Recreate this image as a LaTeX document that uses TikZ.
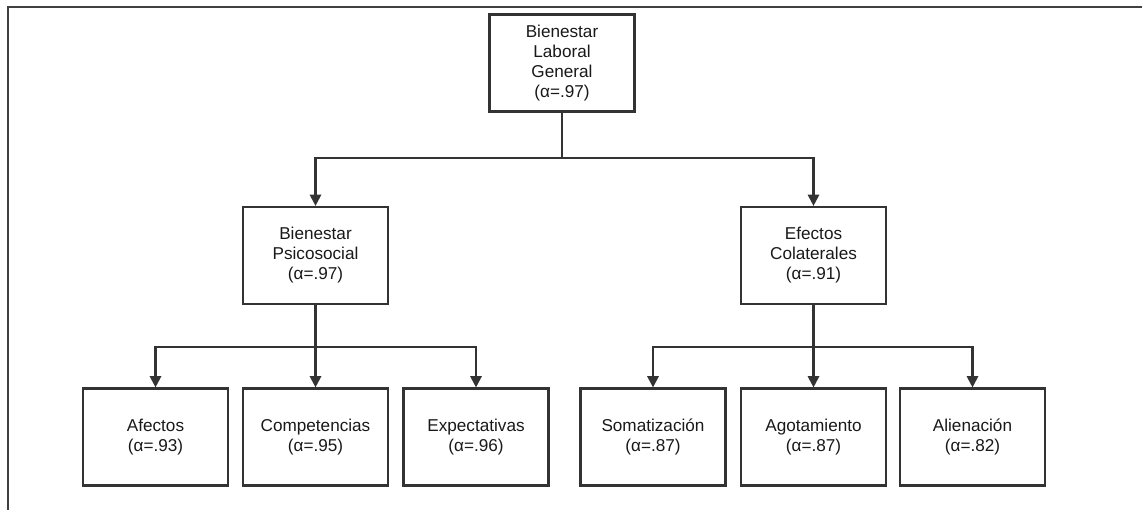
\documentclass[tikz,border=0pt]{standalone}
\usepackage{fontspec}
\setmainfont{Liberation Sans}
\usepackage{xcolor}
\usetikzlibrary{arrows.meta}

\begin{document}
\begin{tikzpicture}[
  x=0.025cm, y=-0.025cm,
  box/.style={rectangle, draw=black!80, fill=white, line width=1.5pt, minimum width=3.625cm, minimum height=2.425cm, align=center, text=black!90, font=\fontsize{12.2}{14.2}\selectfont},
  line/.style={draw=black!80, line width=1.5pt},
  arrow/.style={line, -{Triangle[length=8pt, width=8pt]}},
  frame/.style={draw=black!75, line width=1.5pt}
]
\useasboundingbox (0,0) rectangle (1142,510);

% Frame
\draw [frame] (8,510) -- (8,7) -- (1142,7);

% Top level
\node (general) [box] at (562,63) {Bienestar\\Laboral\\General\\(α=.97)};

% Second level
\node (psico) [box] at (315.5,255.5) {Bienestar\\Psicosocial\\(α=.97)};
\node (colat) [box] at (813.5,255.5) {Efectos\\Colaterales\\(α=.91)};

% Third level
\node (afectos) [box] at (155.5,437) {Afectos\\(α=.93)};
\node (compet) [box] at (315.5,437) {Competencias\\(α=.95)};
\node (expect) [box] at (476,437) {Expectativas\\(α=.96)};
\node (somat) [box] at (653,437) {Somatización\\(α=.87)};
\node (agot) [box] at (813.5,437) {Agotamiento\\(α=.87)};
\node (alien) [box] at (972.5,437) {Alienación\\(α=.82)};

% Junctions
\coordinate (jtop) at (562,158);
\coordinate (jpsico) at (315.5,347);
\coordinate (jcolat) at (813.5,347);

% Arrows
\draw [line] (general.south) -- (jtop);
\draw [arrow] (jtop) -| (psico.north);
\draw [arrow] (jtop) -| (colat.north);

\draw [line] (psico.south) -- (jpsico);
\draw [arrow] (jpsico) -| (afectos.north);
\draw [arrow] (jpsico) -- (compet.north);
\draw [arrow] (jpsico) -| (expect.north);

\draw [line] (colat.south) -- (jcolat);
\draw [arrow] (jcolat) -| (somat.north);
\draw [arrow] (jcolat) -- (agot.north);
\draw [arrow] (jcolat) -| (alien.north);
\end{tikzpicture}
\end{document}
